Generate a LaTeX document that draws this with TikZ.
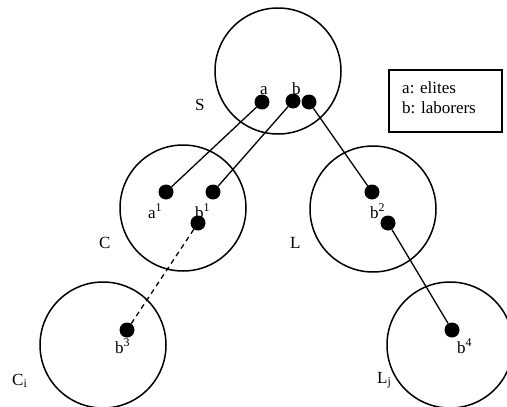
\documentclass[tikz,border=0pt]{standalone}
\usepackage{fontspec}
\setmainfont{Liberation Serif}

\begin{document}
\begin{tikzpicture}[
  x=1pt, y=-1pt,
  group/.style={draw, circle, line width=1.5pt, minimum size=126pt, inner sep=0pt},
  member/.style={fill, circle, minimum size=15pt, inner sep=0pt},
  tie/.style={line width=1.3pt},
  txt/.style={font=\fontsize{17}{19}\selectfont, inner sep=0pt, anchor=base west},
  ]
\useasboundingbox (0,0) rectangle (507,407);
% groups
\node[group] (S)  at (278,71)  {};
\node[group] (C)  at (183,208) {};
\node[group] (L)  at (373,209) {};
\node[group] (Ci) at (103,345) {};
\node[group] (Lj) at (450,345) {};
% members
\node[member] (sa)  at (262,102) {};
\node[member] (sb)  at (293,101) {};
\node[member] (sb2) at (309,102) {};
\node[member] (ca)  at (166,192) {};
\node[member] (cb)  at (213,192) {};
\node[member] (cb3) at (198,223) {};
\node[member] (lb)  at (372,192) {};
\node[member] (lb4) at (388,223) {};
\node[member] (cib) at (127,330) {};
\node[member] (ljb) at (452,330) {};
% ties
\draw[tie] (sa) -- (ca);
\draw[tie] (sb) -- (cb);
\draw[tie] (sb2) -- (lb);
\draw[tie] (lb4) -- (ljb);
\draw[tie, dash pattern=on 5pt off 4pt] (cb3) -- (cib);
% labels
\node[txt] (lS)  at (195,110) {S};
\node[txt] (lsa) at (260,94)  {a};
\node[txt] (lsb) at (292,94)  {b};
\node[txt] (lC)  at (99,248)  {C};
\node[txt] (lca) at (148,218) {a\textsuperscript{1}};
\node[txt] (lcb) at (195,218) {b\textsuperscript{1}};
\node[txt] (lL)  at (290,248) {L};
\node[txt] (llb) at (370,218) {b\textsuperscript{2}};
\node[txt] (lCi) at (12,385)  {C\textsubscript{i}};
\node[txt] (lcib) at (115,353) {b\textsuperscript{3}};
\node[txt] (lLj) at (377,383) {L\textsubscript{j}};
\node[txt] (lljb) at (457,353) {b\textsuperscript{4}};
% legend
\draw[line width=1.3pt] (389,70) rectangle (502,132);
\node[txt] (key1) at (402,93)  {a: elites};
\node[txt] (key2) at (402,113) {b: laborers};
\end{tikzpicture}
\end{document}
